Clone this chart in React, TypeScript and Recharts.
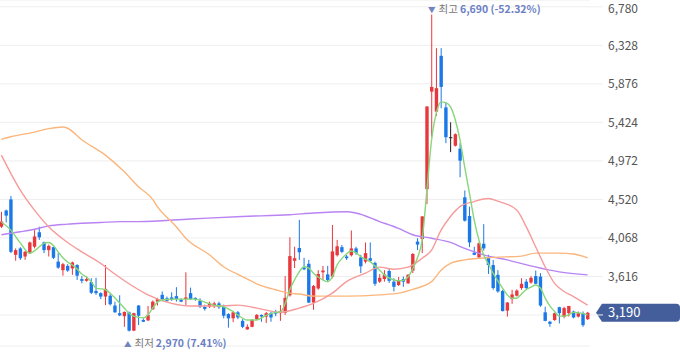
import React from 'react';
import {
  ComposedChart,
  Bar,
  Line,
  XAxis,
  YAxis,
  CartesianGrid,
  ReferenceLine,
  ReferenceDot,
} from 'recharts';

// daily candles (won)
const opens = [
  4200, 4390, 4520, 3870, 3945, 3850, 3890, 3965, 4135, 4015,
  3925, 3960, 3790, 3690, 3740, 3710, 3750, 3585, 3565, 3550,
  3445, 3420, 3380, 3390, 3275, 3185, 3150, 3195, 2980, 3275,
  3105, 3100, 3230, 3320, 3400, 3360, 3370, 3385, 3340, 3350,
  3420, 3365, 3330, 3260, 3260, 3275, 3300, 3260, 3175, 3125,
  3195, 3095, 2995, 3025, 3115, 3165, 3145, 3185, 3200, 3185,
  3190, 3395, 3800, 3950, 3720, 3765, 3310, 3475, 3665, 3640,
  3615, 3865, 3960, 3850, 3865, 3945, 3840, 3790, 3830, 3775,
  3555, 3585, 3680, 3555, 3515, 3585, 3535, 3685, 4025, 4055,
  4640, 5785, 5550, 6205, 5600, 5250, 5150, 5115, 4545, 4325,
  3895, 3840, 4000, 3840, 3750, 3635, 3445, 3215, 3350, 3390,
  3480, 3555, 3545, 3620, 3615, 3195, 3085, 3105, 3255, 3145,
  3185, 3205, 3145, 3185, 3115,
];
const highs = [
  4375, 4400, 4560, 3945, 3960, 3915, 4025, 4160, 4200, 4025,
  3990, 3965, 3895, 3775, 3760, 3790, 3760, 3620, 3620, 3595,
  3600, 3430, 3750, 3410, 3320, 3395, 3205, 3205, 3190, 3280,
  3125, 3270, 3335, 3365, 3440, 3380, 3430, 3490, 3360, 3665,
  3485, 3370, 3360, 3285, 3320, 3320, 3320, 3285, 3185, 3205,
  3210, 3115, 3055, 3115, 3175, 3170, 3200, 3200, 3225, 3280,
  3620, 4075, 3965, 4280, 3835, 3810, 3515, 3690, 3740, 3740,
  4220, 4045, 3985, 3870, 4155, 3965, 3870, 4015, 4015, 3790,
  3645, 3690, 3715, 3595, 3610, 3615, 3645, 3890, 4065, 4325,
  5615, 6690, 6295, 6295, 5660, 5425, 5295, 5180, 4625, 4435,
  3965, 4015, 4230, 3870, 3810, 3690, 3460, 3315, 3460, 3465,
  3595, 3585, 3620, 3685, 3655, 3260, 3095, 3190, 3260, 3260,
  3270, 3215, 3205, 3205, 3200,
];
const lows = [
  4185, 4250, 3890, 3800, 3810, 3810, 3880, 3945, 4045, 3890,
  3850, 3820, 3705, 3625, 3670, 3635, 3575, 3535, 3555, 3410,
  3400, 3350, 3280, 3275, 3190, 3150, 3025, 2970, 2975, 3045,
  3080, 3095, 3225, 3275, 3340, 3320, 3330, 3320, 3315, 3275,
  3340, 3330, 3245, 3215, 3245, 3245, 3235, 3125, 3015, 3080,
  3115, 3010, 2990, 3020, 3105, 3085, 3070, 3085, 3150, 3095,
  3165, 3380, 3715, 3810, 3690, 3305, 3225, 3460, 3575, 3550,
  3595, 3850, 3890, 3810, 3850, 3870, 3655, 3770, 3790, 3505,
  3540, 3555, 3540, 3440, 3505, 3495, 3530, 3655, 3925, 3890,
  4465, 5255, 5500, 5590, 5180, 5075, 5140, 4780, 4260, 3960,
  3865, 3830, 3920, 3645, 3460, 3425, 3205, 3145, 3295, 3380,
  3460, 3460, 3530, 3525, 3260, 3090, 3025, 3095, 3065, 3125,
  3145, 3125, 3135, 3025, 3105,
];
const closes = [
  4260, 4330, 3905, 3925, 3830, 3905, 4015, 4085, 4075, 3925,
  3975, 3835, 3720, 3760, 3685, 3780, 3625, 3565, 3585, 3425,
  3420, 3380, 3470, 3290, 3195, 3160, 3200, 2980, 3185, 3155,
  3085, 3165, 3320, 3350, 3350, 3330, 3345, 3350, 3320, 3370,
  3350, 3350, 3260, 3235, 3300, 3300, 3255, 3155, 3125, 3195,
  3135, 3025, 3025, 3105, 3165, 3145, 3185, 3135, 3180, 3205,
  3365, 3855, 3830, 3900, 3700, 3310, 3505, 3645, 3685, 3575,
  3910, 3970, 3905, 3830, 3945, 3890, 3735, 3890, 3800, 3530,
  3600, 3640, 3565, 3495, 3565, 3555, 3635, 3880, 3990, 4320,
  5610, 5840, 5825, 5840, 5250, 5250, 5285, 4975, 4270, 4015,
  3870, 4005, 3945, 3750, 3480, 3440, 3210, 3310, 3405, 3450,
  3530, 3480, 3600, 3530, 3275, 3095, 3060, 3185, 3185, 3245,
  3270, 3135, 3185, 3045, 3190,
];

// moving averages as [candle index, value]
const ma5 = [
  [0, 4255], [2, 4160], [4, 4010], [6, 3890], [7, 3915], [9, 4005], [10, 4015],
  [11, 3980], [12, 3905], [13, 3835], [14, 3785], [15, 3750], [16, 3705],
  [17, 3645], [18, 3610], [19, 3555], [20, 3480], [22, 3460], [23, 3420],
  [24, 3365], [25, 3305], [26, 3245], [27, 3185], [28, 3150], [30, 3130],
  [31, 3165], [32, 3245], [33, 3315], [34, 3340], [36, 3350], [38, 3350],
  [41, 3350], [43, 3315], [45, 3280], [47, 3260], [48, 3235], [49, 3205],
  [50, 3165], [52, 3105], [54, 3105], [56, 3160], [58, 3195], [59, 3200],
  [60, 3295], [61, 3460], [62, 3575], [63, 3670], [64, 3730], [65, 3715],
  [66, 3655], [67, 3610], [68, 3575], [69, 3555], [70, 3610], [71, 3750],
  [72, 3825], [73, 3880], [74, 3915], [75, 3895], [76, 3850], [77, 3820],
  [78, 3790], [79, 3740], [80, 3690], [81, 3635], [83, 3575], [84, 3565],
  [85, 3570], [86, 3610], [87, 3705], [88, 3835], [89, 4045], [90, 4630],
  [91, 5220], [92, 5535], [93, 5665], [94, 5655], [95, 5605], [96, 5455],
  [97, 5220], [98, 4900], [99, 4595], [100, 4280], [101, 4045], [102, 3870],
  [103, 3765], [104, 3655], [105, 3565], [106, 3480], [107, 3400], [108, 3360],
  [109, 3360], [110, 3410], [111, 3460], [112, 3490], [113, 3515], [114, 3480],
  [115, 3365], [116, 3270], [117, 3205], [118, 3150], [119, 3150], [120, 3165],
  [121, 3195], [122, 3190], [123, 3180], [124, 3165],
];
const ma20 = [
  [0, 5040], [4, 4630], [7, 4395], [10, 4200], [14, 4015], [17, 3905], [21, 3770],
  [24, 3645], [28, 3495], [31, 3400], [36, 3300], [40, 3270], [47, 3270],
  [50, 3280], [54, 3245], [59, 3195], [63, 3245], [66, 3300], [70, 3420],
  [73, 3555], [77, 3655], [80, 3725], [83, 3700], [86, 3725], [89, 3830],
  [91, 3925], [93, 4160], [95, 4320], [97, 4435], [100, 4495], [103, 4530],
  [105, 4500], [109, 4395], [111, 4200], [113, 3965], [115, 3730], [117, 3535],
  [119, 3440], [121, 3380], [124, 3280],
];
const ma60 = [
  [0, 5225], [2, 5255], [7, 5310], [10, 5350], [13, 5370], [14, 5355], [17, 5220],
  [22, 5040], [26, 4845], [29, 4670], [32, 4520], [33, 4435], [37, 4200],
  [39, 4065], [44, 3870], [47, 3730], [51, 3615], [54, 3530], [58, 3460],
  [61, 3420], [63, 3410], [66, 3385], [73, 3385], [80, 3400], [84, 3420],
  [87, 3465], [91, 3555], [93, 3690], [95, 3770], [98, 3810], [104, 3840],
  [110, 3855], [113, 3890], [118, 3890], [121, 3880], [124, 3835],
];
const ma120 = [
  [0, 4105], [4, 4140], [7, 4170], [10, 4210], [14, 4230], [17, 4240], [21, 4250],
  [25, 4260], [29, 4260], [40, 4290], [51, 4320], [61, 4340], [66, 4360],
  [73, 4375], [75, 4360], [80, 4260], [84, 4180], [87, 4105], [91, 4065],
  [95, 4015], [98, 3945], [102, 3870], [107, 3810], [112, 3740], [118, 3670],
  [124, 3635],
];

const priceTicks = [3164, 3616, 4068, 4520, 4972, 5424, 5876, 6328, 6780];
const lastPrice = 3190;
const highMark = { idx: 91, value: 6690, title: '최고', text: '6,690 (-52.32%)' };
const lowMark = { idx: 27, value: 2970, title: '최저', text: '2,970 (7.41%)' };

const RED = '#e8383d';
const BLUE = '#1b78e8';
const FONT = "'Noto Sans CJK KR', 'Noto Sans', sans-serif";

const m5 = new Map(ma5 as [number, number][]);
const m20 = new Map(ma20 as [number, number][]);
const m60 = new Map(ma60 as [number, number][]);
const m120 = new Map(ma120 as [number, number][]);

const data = opens.map((o, i) => ({
  idx: i,
  open: o,
  high: highs[i],
  low: lows[i],
  close: closes[i],
  ma5: m5.get(i) ?? null,
  ma20: m20.get(i) ?? null,
  ma60: m60.get(i) ?? null,
  ma120: m120.get(i) ?? null,
}));

function Candle(props: any) {
  const { x, y, width, height, payload } = props;
  const { open, close, high, low } = payload;
  const top0 = Math.min(y, y + height);
  const h = Math.abs(height);
  const cx = x + width / 2;
  const span = high - low || 1;
  const toY = (v: number) => top0 + ((high - v) / span) * h;
  const bTop = toY(Math.max(open, close));
  const bBot = toY(Math.min(open, close));
  const color = close > open ? RED : close < open ? BLUE : '#222';
  return (
    <g>
      <line x1={cx} x2={cx} y1={top0} y2={top0 + h} stroke={color} strokeWidth={1} />
      <rect x={cx - 1.7} y={bTop} width={3.4} height={Math.max(bBot - bTop, 1)} fill={color} />
    </g>
  );
}

function PriceTick({ x, y, payload }: any) {
  if (payload.value === priceTicks[0]) return <g />;
  return (
    <text x={x} y={y} dy='0.35em' fill='#555' fontSize={12} fontFamily={FONT} textAnchor='start'>
      {payload.value.toLocaleString('en-US')}
    </text>
  );
}

function PriceTag({ viewBox, value }: any) {
  const tip = viewBox.x + viewBox.width + 6;
  const cy = viewBox.y;
  return (
    <g>
      <path
        d={`M${tip},${cy} L${tip + 6},${cy - 9} H${tip + 80} Q${tip + 84},${cy - 9} ${tip + 84},${cy - 5} V${cy + 5} Q${tip + 84},${cy + 9} ${tip + 80},${cy + 9} H${tip + 6} Z`}
        fill='#435e9b'
      />
      <text x={tip + 12} y={cy} dy='0.35em' fill='#fff' fontSize={13} fontFamily={FONT}>
        {value.toLocaleString('en-US')}
      </text>
    </g>
  );
}

function HighLabel({ cx, cy }: any) {
  return (
    <text x={cx - 3.5} y={cy - 1.5} fontSize={10.5} fontFamily={FONT}>
      <tspan fill='#7283bd' fontSize={7.5}>▼</tspan>
      <tspan fill='#777' dx={3}>{highMark.title}</tspan>
      <tspan fill='#6b7fc4' fontWeight={700} dx={2}>{highMark.text}</tspan>
    </text>
  );
}

function LowLabel({ cx, cy }: any) {
  return (
    <text x={cx - 5} y={cy + 15.5} fontSize={10.5} fontFamily={FONT}>
      <tspan fill='#7283bd' fontSize={7.5}>▲</tspan>
      <tspan fill='#777' dx={3}>{lowMark.title}</tspan>
      <tspan fill='#6b7fc4' fontWeight={700} dx={2}>{lowMark.text}</tspan>
    </text>
  );
}

const lineProps = {
  strokeWidth: 1.4,
  dot: false,
  activeDot: false,
  connectNulls: true,
  type: 'monotone' as const,
  isAnimationActive: false,
};

export default function App() {
  return (
    <div style={{ width: 680, height: 358, background: '#fff' }}>
      <style>{'body{margin:0}'}</style>
      <ComposedChart
        width={680}
        height={358}
        data={data}
        margin={{ top: 0, right: 0, bottom: 12, left: -1 }}>
        <CartesianGrid vertical={false} stroke='#eeeeee' />
        <XAxis dataKey='idx' type='category' hide />
        <YAxis
          orientation='right'
          domain={[2800, 6860]}
          ticks={priceTicks}
          width={90}
          axisLine={false}
          tickLine={{ stroke: '#eeeeee' }}
          tickSize={13}
          tickMargin={5}
          tick={<PriceTick />}
        />
        <Bar
          dataKey={(d: any) => [d.low, d.high]}
          shape={<Candle />}
          isAnimationActive={false}
        />
        <Line dataKey='ma120' stroke='#b983f3' {...lineProps} />
        <Line dataKey='ma60' stroke='#fbb67c' {...lineProps} />
        <Line dataKey='ma20' stroke='#f79a9a' {...lineProps} />
        <Line dataKey='ma5' stroke='#86d77a' {...lineProps} />
        <ReferenceLine y={lastPrice} stroke='none' label={<PriceTag value={lastPrice} />} />
        <ReferenceDot x={highMark.idx} y={highMark.value} r={0} shape={<HighLabel />} />
        <ReferenceDot x={lowMark.idx} y={lowMark.value} r={0} shape={<LowLabel />} />
      </ComposedChart>
    </div>
  );
}
